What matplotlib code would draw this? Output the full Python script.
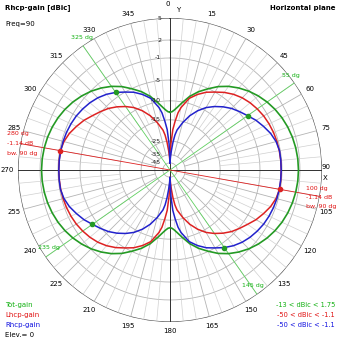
import numpy as np
import matplotlib
matplotlib.use("Agg")
import matplotlib.pyplot as plt

# gain readings (dBic) for one quarter turn, 0..90 deg
ang_q = [0, 2, 4, 6, 8, 10, 15, 20, 25, 30, 35, 40, 45, 50, 55, 60, 65, 70, 75, 80, 85, 90]
tot_q = [-13.0, -12.85, -12.4, -11.8, -11.1, -10.3, -8.3, -6.6, -5.1, -3.85, -2.8, -1.9,
         -1.1, -0.46, 0.09, 0.55, 0.93, 1.23, 1.46, 1.62, 1.72, 1.75]
lhcp_q = [-45, -27, -19.5, -15.5, -13.0, -11.5, -8.8, -7.3, -6.0, -5.0, -4.14, -3.4,
          -2.8, -2.35, -2.0, -1.7, -1.5, -1.35, -1.25, -1.19, -1.16, -1.15]
rhcp_q = [-45, -38, -32, -26, -22, -19.5, -15.5, -13.0, -11.0, -9.3, -8.0, -6.8,
          -5.7, -4.85, -4.14, -3.3, -2.6, -1.9, -1.4, -1.14, -1.14, -1.15]

# half turn: the far lobe of one sense is the near lobe of the other
ang_h = ang_q + [180 - a for a in reversed(ang_q[:-1])]
tot_h = tot_q + list(reversed(tot_q[:-1]))
lhcp_h = lhcp_q + list(reversed(rhcp_q[:-1]))
rhcp_h = rhcp_q + list(reversed(lhcp_q[:-1]))

# full turn, pattern repeats after 180 deg
angles = np.array(ang_h + [a + 180 for a in ang_h[1:]])
tot = np.array(tot_h + tot_h[1:])
lhcp = np.array(lhcp_h + lhcp_h[1:])
rhcp = np.array(rhcp_h + rhcp_h[1:])

lhcp_peak_ang = [100, 280]
lhcp_peak = -1.14
lhcp_bw = 90
bw_angles = [55, 145, 235, 325]
bw_gain = -4.14

ring_db = [5, 2, -1, -5, -10, -15, -25, -35, -45]

# ARRL-like radial scale
scale_db = [-50, -45, -35, -25, -15, -10, -5, -1, 2, 5]
scale_r = [0, 0.047, 0.1, 0.19, 0.33, 0.455, 0.592, 0.737, 0.855, 1.0]


def rad(db):
    return np.interp(db, scale_db, scale_r)


W = 339
cx, cy, R = 170, 170, 152
GREEN = "#249a24"
RED = "#dd2222"
BLUE = "#2222cc"
TGREEN = "#10b010"
TRED = "#e01010"
TBLUE = "#1010e0"

plt.rcParams["font.family"] = "DejaVu Sans"
fig = plt.figure(figsize=(3.39, 3.39), dpi=100)
fig.patch.set_facecolor("white")
ax = fig.add_axes([(cx - R) / W, (W - cy - R) / W, 2 * R / W, 2 * R / W], projection="polar")
ax.set_theta_zero_location("N")
ax.set_theta_direction(-1)
ax.set_ylim(0, 1)
ax.axis("off")

th = np.linspace(0, 2 * np.pi, 721)
for db in ring_db:
    if db == 5:
        ax.plot(th, np.full_like(th, rad(db)), color="#505050", lw=0.9)
    else:
        ax.plot(th, np.full_like(th, rad(db)), color="#b4b4b4", lw=0.6)

for a in range(0, 360, 5):
    t = np.deg2rad(a)
    if a % 90 == 0:
        continue
    if a % 15 == 0:
        ax.plot([t, t], [rad(-35), 1], color="#b4b4b4", lw=0.6)
    else:
        ax.plot([t, t], [rad(-15), 1], color="#d0d0d0", lw=0.5)

# main axes
for a in [0, 90, 180, 270]:
    t = np.deg2rad(a)
    ax.plot([t, t], [0, 1], color="#303030", lw=0.7)

# beamwidth lines
for a in bw_angles:
    t = np.deg2rad(a)
    ax.plot([t, t], [0, 1], color="#60d060", lw=0.6)
for a in lhcp_peak_ang:
    t = np.deg2rad(a)
    ax.plot([t, t], [0, 1], color=RED, lw=0.6)

t_all = np.deg2rad(angles)
ax.plot(t_all, rad(tot), color=GREEN, lw=1.2)
ax.plot(t_all, rad(lhcp), color=RED, lw=1.1)
ax.plot(t_all, rad(rhcp), color=BLUE, lw=1.1)

ax.plot(np.deg2rad(lhcp_peak_ang), rad(np.full(2, lhcp_peak)), "o", color=RED, ms=3)
ax.plot(np.deg2rad(bw_angles), rad(np.full(4, bw_gain)), "o", color=GREEN, ms=3)

# angle labels
for a in range(0, 360, 15):
    t = np.deg2rad(a)
    r = 1.06
    if a == 0:
        ax.text(t, 1.09, "0", fontsize=5, ha="right", va="center", clip_on=False)
        continue
    if a == 90:
        fig.text(322 / W, 1 - 167 / W, "90", fontsize=5, ha="left", va="center")
        fig.text(323 / W, 1 - 178 / W, "X", fontsize=5, ha="left", va="center")
        continue
    if a == 270:
        r = 1.07
    ax.text(t, r, str(a), fontsize=5, ha="center", va="center", clip_on=False)

fig.text(176 / W, 1 - 10 / W, "Y", fontsize=5, ha="left", va="center")

# ring labels
for db in ring_db:
    y = cy - R * rad(db)
    fig.text(161 / W, 1 - y / W, str(db), fontsize=4.5, ha="right", va="center", color="#202020")

# beamwidth angle labels
fig.text(82 / W, 1 - 38 / W, "325 dg", fontsize=4.5, ha="center", va="center", color=TGREEN)
fig.text(291 / W, 1 - 75 / W, "55 dg", fontsize=4.5, ha="center", va="center", color=TGREEN)
fig.text(49 / W, 1 - 248 / W, "235 dg", fontsize=4.5, ha="center", va="center", color=TGREEN)
fig.text(253 / W, 1 - 286 / W, "145 dg", fontsize=4.5, ha="center", va="center", color=TGREEN)

left_txt = ["%d dg" % lhcp_peak_ang[1], "%.2f dB" % lhcp_peak, "bw. %d dg" % lhcp_bw]
right_txt = ["%d dg" % lhcp_peak_ang[0], "%.2f dB" % lhcp_peak, "bw. %d dg" % lhcp_bw]
for i, s in enumerate(left_txt):
    fig.text(7 / W, 1 - (134 + 9.5 * i) / W, s, fontsize=4.5, ha="left", va="center", color=TRED)
for i, s in enumerate(right_txt):
    fig.text(306 / W, 1 - (188 + 9.5 * i) / W, s, fontsize=4.5, ha="left", va="center", color=TRED)

# header and legends
fig.text(5 / W, 1 - 8 / W, "Rhcp-gain [dBic]", fontsize=5, fontweight="bold", ha="left", va="center")
fig.text(5 / W, 1 - 24 / W, "Freq=90", fontsize=5, ha="left", va="center")
fig.text(335 / W, 1 - 8 / W, "Horizontal plane", fontsize=5, fontweight="bold", ha="right", va="center")

leg = [("Tot-gain", TGREEN), ("Lhcp-gain", TRED), ("Rhcp-gain", TBLUE), ("Elev.= 0", "black")]
for i, (s, c) in enumerate(leg):
    fig.text(5 / W, 1 - (305 + 10 * i) / W, s, fontsize=5, ha="left", va="center", color=c)

rng = [("-13 < dBic < 1.75", TGREEN), ("-50 < dBic < -1.1", TRED), ("-50 < dBic < -1.1", TBLUE)]
for i, (s, c) in enumerate(rng):
    fig.text(335 / W, 1 - (305 + 10 * i) / W, s, fontsize=4.8, ha="right", va="center", color=c)

fig.savefig("out.png", dpi=100)
